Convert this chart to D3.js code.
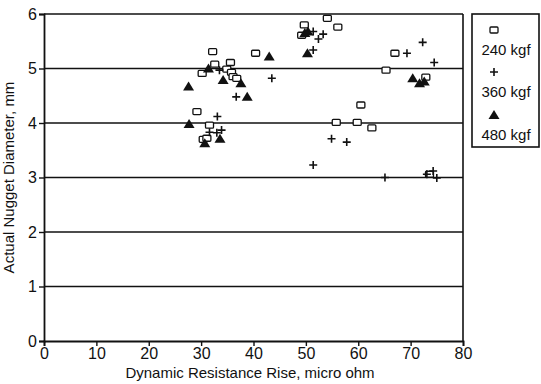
<!DOCTYPE html>
<html><head><meta charset="utf-8">
<script src="https://cdn.jsdelivr.net/npm/d3@7"></script>
<style>body{margin:0;background:#fff}svg{display:block;font-family:"Liberation Sans",Arial,sans-serif}</style>
</head><body><svg id="c" width="541" height="384"></svg>
<script>
const series = ["240 kgf","360 kgf","480 kgf"];
const s240 = [[54.1,5.92],[49.7,5.80],[49.2,5.61],[56.1,5.76],[32.2,5.31],[40.4,5.28],[32.6,5.08],[35.6,5.11],[30.2,4.91],[34.9,4.99],[35.8,4.93],[36.1,4.85],[36.8,4.82],[67.0,5.28],[65.3,4.97],[72.9,4.84],[60.5,4.33],[29.2,4.21],[31.6,3.96],[55.8,4.01],[59.8,4.01],[62.6,3.91],[30.4,3.70],[31.1,3.72],[73.6,3.06]];
const s360 = [[33.5,4.97],[36.7,4.48],[33.1,4.12],[31.6,3.83],[33.0,3.82],[33.9,3.87],[43.5,4.82],[51.4,5.68],[53.3,5.63],[52.4,5.54],[51.4,5.34],[69.3,5.28],[72.3,5.48],[74.5,5.11],[54.9,3.71],[57.8,3.65],[51.4,3.23],[65.1,3.00],[73.1,3.06],[74.3,3.12],[75.0,2.99]];
const s480 = [[27.6,4.67],[27.7,3.98],[31.4,5.00],[34.2,4.79],[37.6,4.73],[38.8,4.48],[43.0,5.22],[30.7,3.63],[33.6,3.71],[49.8,5.65],[50.4,5.68],[50.3,5.28],[70.4,4.82],[71.7,4.73],[72.6,4.76]];
const xTicks = [0,10,20,30,40,50,60,70,80];
const yTicks = [0,1,2,3,4,5,6];
const xTitle = "Dynamic Resistance Rise, micro ohm";
const yTitle = "Actual Nugget Diameter, mm";

const svg = d3.select("#c");
const L=44,R=463,T=14,B=341;
const x = d3.scaleLinear().domain([0,80]).range([L,R]);
const y = d3.scaleLinear().domain([0,6]).range([B,T]);
const ink="#111";

// gridlines
svg.append("g").selectAll("line").data(yTicks.filter(d=>d>0)).join("line")
  .attr("x1",L).attr("x2",R).attr("y1",d=>y(d)).attr("y2",d=>y(d))
  .attr("stroke",ink).attr("stroke-width",1.6);
// right frame
svg.append("line").attr("x1",R).attr("x2",R).attr("y1",T).attr("y2",B).attr("stroke",ink).attr("stroke-width",1.6);

const fmt = d3.format("d");
const ax = svg.append("g").attr("transform",`translate(0,${B})`)
  .call(d3.axisBottom(x).tickValues(xTicks).tickFormat(fmt).tickSize(5).tickPadding(2));
const ay = svg.append("g").attr("transform",`translate(${L},0)`)
  .call(d3.axisLeft(y).tickValues(yTicks).tickFormat(fmt).tickSize(5).tickPadding(2));
[ax,ay].forEach(g=>{
  g.select(".domain").attr("stroke",ink).attr("stroke-width",1.8);
  g.selectAll(".tick line").attr("stroke",ink).attr("stroke-width",1.4);
  g.selectAll(".tick text").attr("fill",ink).attr("font-size",16).attr("font-family","'Liberation Sans',Arial,sans-serif");
});

svg.append("text").attr("x",250).attr("y",378).attr("text-anchor","middle")
  .attr("font-size",15).attr("fill",ink).text(xTitle);
svg.append("text").attr("transform",`translate(14,${(T+B)/2}) rotate(-90)`).attr("text-anchor","middle")
  .attr("font-size",15).attr("fill",ink).text(yTitle);

// marker drawers
function sq(g){g.append("rect").attr("x",-4).attr("y",-3).attr("width",8).attr("height",6).attr("rx",1)
  .attr("fill","#fff").attr("stroke",ink).attr("stroke-width",1.3);}
function plus(g){g.append("path").attr("d","M-4,0H4M0,-4V4").attr("stroke",ink).attr("stroke-width",1.6).attr("fill","none");}
function tri(g){g.append("path").attr("d","M0,-5L5.5,4H-5.5Z").attr("fill",ink);}
const drawers=[sq,plus,tri];
const data=[s240,s360,s480];

data.forEach((s,i)=>{
  svg.append("g").selectAll("g").data(s).join("g")
    .attr("transform",d=>`translate(${x(d[0])},${y(d[1])})`)
    .each(function(){drawers[i](d3.select(this));});
});

// legend
const lg = svg.append("g");
lg.append("rect").attr("x",472).attr("y",14).attr("width",67).attr("height",133)
  .attr("fill","#fff").attr("stroke",ink).attr("stroke-width",1.6);
const ly=[30,72,115];
series.forEach((name,i)=>{
  const g=lg.append("g").attr("transform",`translate(494,${ly[i]})`);
  drawers[i](g);
  lg.append("text").attr("x",506).attr("y",ly[i]+25).attr("text-anchor","middle")
    .attr("font-size",15).attr("fill",ink).text(name);
});
</script></body></html>
